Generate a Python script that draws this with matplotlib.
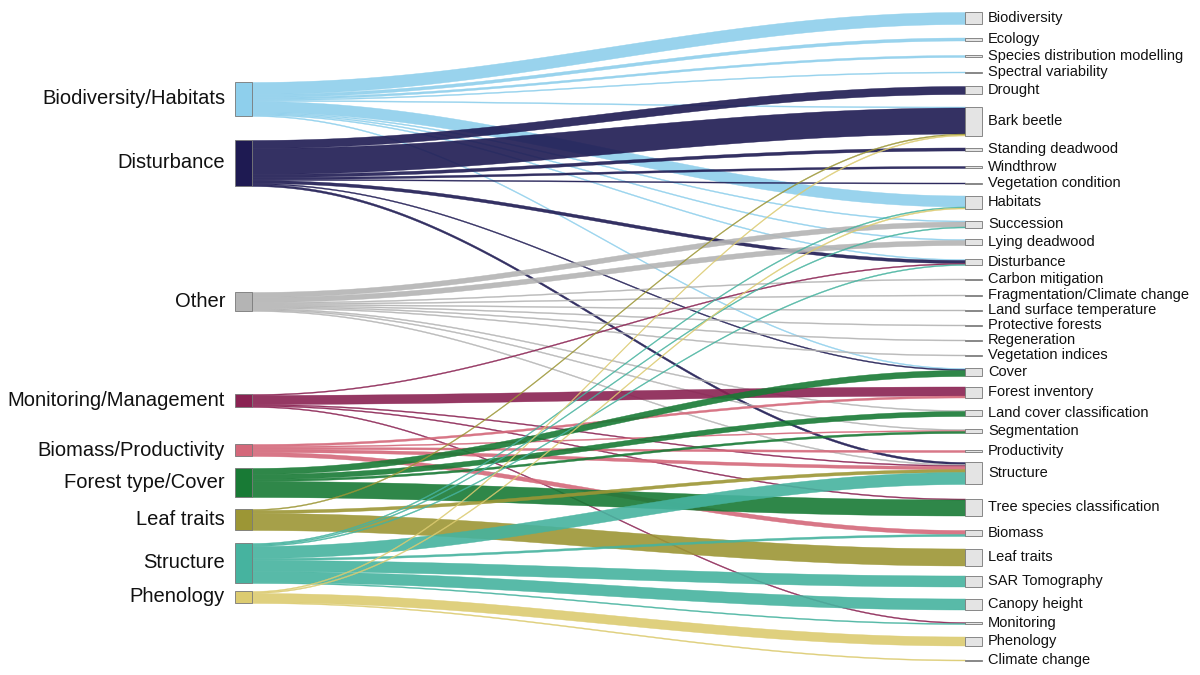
import numpy as np
import matplotlib
matplotlib.use("Agg")
import matplotlib.pyplot as plt

plt.rcParams["font.family"] = ["Liberation Sans", "DejaVu Sans"]

sources = ["Biodiversity/Habitats", "Disturbance", "Other", "Monitoring/Management",
           "Biomass/Productivity", "Forest type/Cover", "Leaf traits", "Structure", "Phenology"]
source_colors = ["#8ecfec", "#1e1a52", "#b4b4b4", "#8a2252", "#d4687a",
                 "#187a35", "#9c9635", "#46b39f", "#dccb70"]
targets = ["Biodiversity", "Ecology", "Species distribution modelling", "Spectral variability",
           "Drought", "Bark beetle", "Standing deadwood", "Windthrow", "Vegetation condition",
           "Habitats", "Succession", "Lying deadwood", "Disturbance", "Carbon mitigation",
           "Fragmentation/Climate change", "Land surface temperature", "Protective forests",
           "Regeneration", "Vegetation indices", "Cover", "Forest inventory",
           "Land cover classification", "Segmentation", "Productivity", "Structure",
           "Tree species classification", "Biomass", "Leaf traits", "SAR Tomography",
           "Canopy height", "Monitoring", "Phenology", "Climate change"]
flow_src = ["Biodiversity/Habitats"] * 10 + ["Disturbance"] * 8 + ["Other"] * 11 + \
    ["Monitoring/Management"] * 5 + ["Biomass/Productivity"] * 5 + ["Forest type/Cover"] * 4 + \
    ["Leaf traits"] * 3 + ["Structure"] * 8 + ["Phenology"] * 4
flow_tgt = ["Biodiversity", "Ecology", "Species distribution modelling", "Spectral variability",
            "Bark beetle", "Habitats", "Succession", "Lying deadwood", "Disturbance", "Cover",
            "Drought", "Bark beetle", "Standing deadwood", "Windthrow", "Vegetation condition",
            "Disturbance", "Cover", "Structure",
            "Succession", "Lying deadwood", "Carbon mitigation", "Fragmentation/Climate change",
            "Land surface temperature", "Protective forests", "Regeneration", "Vegetation indices",
            "Land cover classification", "Segmentation", "Structure",
            "Disturbance", "Forest inventory", "Structure", "Tree species classification", "Monitoring",
            "Forest inventory", "Segmentation", "Productivity", "Structure", "Biomass",
            "Cover", "Land cover classification", "Segmentation", "Tree species classification",
            "Bark beetle", "Structure", "Leaf traits",
            "Habitats", "Succession", "Disturbance", "Structure", "Biomass", "SAR Tomography",
            "Canopy height", "Monitoring",
            "Bark beetle", "Habitats", "Phenology", "Climate change"]
flow_val = [12, 3, 2, 1, 1, 11, 1, 1, 1, 1,
            8, 26, 3, 2, 1, 3, 1, 2,
            5, 5, 1, 1, 1, 1, 1, 1, 1, 1, 1,
            1, 9, 1, 1, 1,
            2, 1, 2, 3, 4,
            6, 5, 2, 16,
            1, 3, 17,
            1, 1, 1, 12, 2, 11, 11, 1,
            1, 1, 9, 1]

# layout (pixel space)
src_top = [82, 140, 292, 394, 444, 468, 509, 543, 591]
tgt_centers = [18, 39, 56, 72, 90, 121, 149, 167, 183, 202, 224, 242, 262, 279, 295, 310,
               325, 340, 355, 372, 392, 413, 431, 451, 473, 507, 533, 557, 581, 604, 623, 641, 660]
XL0, XL1, XR0, XR1 = 235, 252, 965, 982

fig = plt.figure(figsize=(12, 6.75), dpi=100)
ax = fig.add_axes([0, 0, 1, 1])
ax.set_xlim(0, 1200)
ax.set_ylim(675, 0)
ax.axis("off")

src_tot = {s: 0 for s in sources}
tgt_tot = {t: 0 for t in targets}
for s, t, v in zip(flow_src, flow_tgt, flow_val):
    src_tot[s] += v
    tgt_tot[t] += v
src_y = {s: src_top[i] for i, s in enumerate(sources)}
tgt_y = {t: tgt_centers[i] - tgt_tot[t] / 2 for i, t in enumerate(targets)}

flows = list(zip(flow_src, flow_tgt, flow_val))
src_pos = {}
for s in sources:
    off = src_y[s]
    for i, f in sorted([(i, f) for i, f in enumerate(flows) if f[0] == s],
                       key=lambda x: targets.index(x[1][1])):
        src_pos[i] = off
        off += f[2]
tgt_pos = {}
for t in targets:
    off = tgt_y[t]
    for i, f in sorted([(i, f) for i, f in enumerate(flows) if f[1] == t],
                       key=lambda x: sources.index(x[1][0])):
        tgt_pos[i] = off
        off += f[2]

tt = np.linspace(0, 1, 100)
ss = (1 - np.cos(np.pi * tt)) / 2
xs = XL1 + (XR0 - XL1) * tt
for i, (s, t, v) in enumerate(flows):
    c = source_colors[sources.index(s)]
    y0, y1 = src_pos[i], tgt_pos[i]
    top = y0 + (y1 - y0) * ss
    ax.fill_between(xs, top, top + v, color=c, alpha=0.9, lw=0.3, zorder=2)

for i, s in enumerate(sources):
    c = source_colors[i]
    ax.add_patch(plt.Rectangle((XL0, src_y[s]), XL1 - XL0, src_tot[s], facecolor=c,
                               edgecolor="#777777", lw=0.6, zorder=3))
    ax.text(225, src_y[s] + src_tot[s] / 2, s, ha="right", va="center", fontsize=14.5,
            color="#111111")
for t in targets:
    ax.add_patch(plt.Rectangle((XR0, tgt_y[t]), XR1 - XR0, tgt_tot[t], facecolor="#e4e4e4",
                               edgecolor="#777777", lw=0.6, zorder=3))
    ax.text(988, tgt_y[t] + tgt_tot[t] / 2, t, ha="left", va="center", fontsize=10.5,
            color="#111111")

fig.savefig("out.png", dpi=100, facecolor="white")
